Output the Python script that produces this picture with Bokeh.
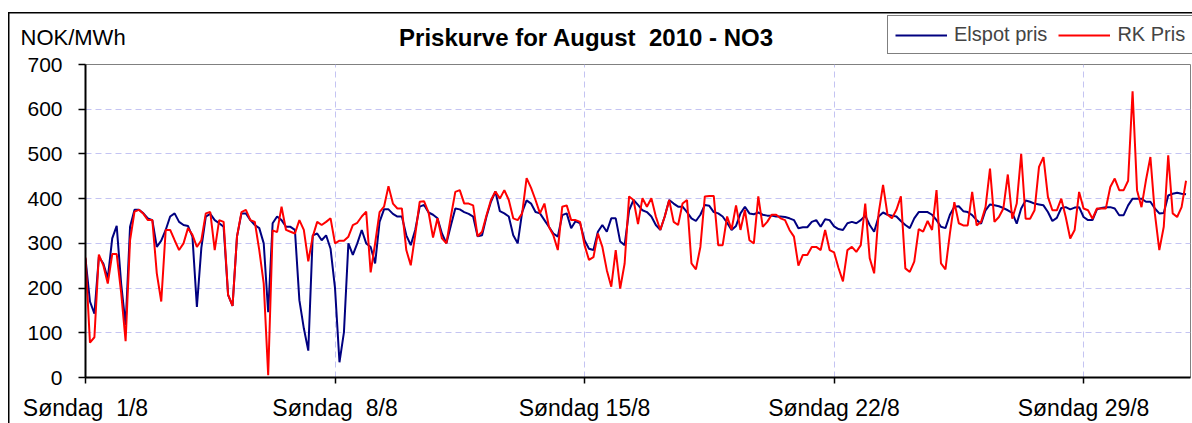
from bokeh.plotting import figure
from bokeh.layouts import column
from bokeh.models import FixedTicker, Legend, LegendItem, Range1d
from bokeh.core.properties import value
from bokeh.embed import file_html
from bokeh.resources import INLINE

# ---- data (3-hour samples, August 2010, NOK/MWh) ----
hours = list(range(0, 744, 3))

elspot = [
    266, 170, 143, 270, 255, 222, 311, 339,
    210, 117, 337, 375, 375, 367, 356, 352,
    292, 306, 330, 360, 367, 348, 341, 339,
    315, 158, 290, 360, 366, 352, 345, 337,
    185, 160, 315, 367, 367, 352, 341, 334,
    300, 146, 345, 360, 352, 337, 337, 330,
    173, 110, 60, 318, 322, 307, 318, 288,
    200, 34, 101, 300, 274, 300, 330, 300,
    292, 255, 348, 376, 376, 366, 360, 360,
    318, 296, 330, 382, 386, 369, 364, 356,
    322, 300, 340, 378, 376, 370, 366, 360,
    316, 318, 360, 393, 416, 372, 367, 360,
    318, 300, 370, 396, 389, 370, 367, 352,
    337, 322, 315, 363, 367, 334, 350, 345,
    307, 288, 285, 326, 341, 326, 356, 356,
    304, 296, 374, 397, 386, 374, 370, 360,
    341, 330, 360, 397, 389, 382, 382, 370,
    356, 350, 364, 386, 384, 370, 367, 360,
    346, 330, 339, 367, 382, 367, 365, 369,
    364, 362, 362, 360, 360, 359, 356, 352,
    334, 336, 336, 348, 352, 337, 354, 352,
    338, 332, 330, 345, 348, 345, 352, 362,
    341, 326, 360, 369, 364, 362, 360, 350,
    341, 334, 356, 370, 370, 370, 364, 352,
    337, 334, 364, 382, 383, 372, 370, 363,
    352, 344, 374, 387, 385, 383, 379, 374,
    368, 344, 378, 396, 393, 389, 387, 385,
    370, 350, 357, 379, 381, 376, 380, 381,
    359, 352, 352, 376, 379, 381, 381, 378,
    363, 363, 385, 400, 400, 400, 393, 393,
    378, 367, 368, 407, 411, 413, 411, 410,
]

rk_pris = [
    268, 78, 90, 275, 251, 210, 276, 276,
    190, 81, 307, 371, 375, 366, 352, 352,
    233, 170, 330, 330, 307, 285, 300, 334,
    319, 292, 307, 367, 370, 285, 352, 348,
    185, 160, 315, 370, 375, 352, 348, 285,
    210, 5, 329, 325, 382, 330, 326, 322,
    352, 330, 260, 315, 348, 341, 348, 356,
    300, 306, 306, 315, 341, 346, 360, 371,
    235, 300, 370, 382, 428, 389, 378, 378,
    285, 251, 319, 393, 394, 369, 313, 356,
    311, 300, 360, 415, 419, 389, 389, 385,
    316, 326, 363, 397, 416, 400, 419, 397,
    356, 352, 367, 446, 424, 397, 367, 389,
    337, 318, 285, 382, 385, 352, 352, 348,
    296, 263, 269, 322, 292, 240, 203, 285,
    199, 255, 405, 397, 343, 401, 382, 401,
    360, 330, 360, 397, 348, 341, 389, 397,
    255, 242, 292, 405, 406, 406, 296, 296,
    360, 331, 385, 330, 375, 307, 300, 405,
    337, 348, 364, 364, 356, 352, 330, 315,
    250, 274, 274, 292, 292, 285, 330, 285,
    280, 245, 215, 285, 292, 281, 296, 389,
    267, 233, 367, 431, 364, 356, 375, 405,
    244, 236, 259, 332, 326, 350, 330, 419,
    255, 242, 322, 392, 345, 340, 340, 415,
    340, 348, 381, 467, 348, 359, 378, 454,
    355, 389, 500, 355, 355, 374, 471, 493,
    404, 374, 374, 400, 359, 311, 330, 415,
    378, 374, 355, 378, 378, 378, 426, 445,
    419, 419, 440, 640, 419, 381, 441, 493,
    367, 285, 337, 497, 367, 359, 381, 440,
]

NB = "\u00a0"
week_ticks = [0, 168, 336, 504, 672]
week_labels = ["Søndag " + NB + "1/8", "Søndag " + NB + "8/8", "Søndag 15/8", "Søndag 22/8", "Søndag 29/8"]
y_ticks = [0, 100, 200, 300, 400, 500, 600, 700]

title_text = "Priskurve for August " + NB + "2010 - NO3"
unit_text = "NOK/MWh"
series_names = ["Elspot pris", "RK Pris"]
series_colors = ["#000080", "#ff0000"]

FONT = "Liberation Sans"
W = 1192
HEAD_H = 54
MAIN_H = 423 - HEAD_H

BORDER_HEAD = ("linear-gradient(#000,#000) 8px 12px / 1.5px 100% no-repeat, "
               "linear-gradient(#000,#000) 8px 12px / 100% 1.5px no-repeat, #fff")
BORDER_MAIN = "linear-gradient(#000,#000) 8px 0px / 1.5px 100% no-repeat, #fff"

# ---- header: unit label, title, legend ----
head = figure(width=W, height=HEAD_H, output_backend="svg", toolbar_location=None,
              x_range=Range1d(0, W), y_range=Range1d(HEAD_H, 0),
              x_axis_location=None, y_axis_location=None, min_border=0,
              frame_align=False, styles={"background": BORDER_HEAD})
head.title.visible = False
head.grid.visible = False
head.outline_line_color = None
head.background_fill_color = None
head.border_fill_color = None

head.text(x=[20], y=[36.5], text=[unit_text], text_font=value(FONT),
          text_font_size="22px", text_baseline="middle", text_color="black")
head.text(x=[586], y=[37], text=[title_text], text_font=value(FONT),
          text_font_size="24px", text_font_style="bold", text_align="center",
          text_baseline="middle", text_color="black")

# legend keys: renderers kept outside the header's visible range
key_renderers = [head.line(x=[-40, -20], y=[-40, -40], line_color=c, line_width=2)
                 for c in series_colors]
legend = Legend(items=[LegendItem(label=n, renderers=[r]) for n, r in zip(series_names, key_renderers)],
                location=(887, 0), orientation="horizontal",
                label_text_font=FONT, label_text_font_size="20px",
                glyph_width=52, glyph_height=20, label_standoff=7, spacing=11,
                padding=7, margin=0,
                border_line_color="black", border_line_width=1.5,
                background_fill_color="white", background_fill_alpha=1)
head.add_layout(legend)

# ---- main chart ----
p = figure(width=W, height=MAIN_H, output_backend="svg", toolbar_location=None,
           x_range=Range1d(0, 744), y_range=Range1d(0, 700),
           min_border_left=85, min_border_right=2, min_border_top=64 - HEAD_H,
           min_border_bottom=45, frame_align=False,
           styles={"background": BORDER_MAIN})
p.title.visible = False
p.background_fill_color = "white"
p.border_fill_color = None
p.outline_line_color = "#808080"
p.outline_line_width = 1

p.xaxis.ticker = FixedTicker(ticks=week_ticks)
p.xaxis.major_label_overrides = {t: l for t, l in zip(week_ticks, week_labels)}
p.xaxis.major_label_text_font = FONT
p.xaxis.major_label_text_font_size = "23px"
p.xaxis.major_label_text_color = "black"
p.xaxis.major_label_standoff = 11
p.xaxis.major_tick_out = 6
p.xaxis.major_tick_in = 0
p.xaxis.minor_tick_line_color = None
p.xaxis.axis_line_width = 2
p.xaxis.axis_line_color = "black"
p.xaxis.major_tick_line_color = "black"
p.xaxis.major_tick_line_width = 1.5

p.yaxis.ticker = FixedTicker(ticks=y_ticks)
p.yaxis.major_label_text_font = FONT
p.yaxis.major_label_text_font_size = "21px"
p.yaxis.major_label_text_color = "black"
p.yaxis.major_label_standoff = 16
p.yaxis.major_tick_out = 7
p.yaxis.major_tick_in = 0
p.yaxis.minor_tick_line_color = None
p.yaxis.axis_line_width = 2
p.yaxis.axis_line_color = "black"
p.yaxis.major_tick_line_color = "black"
p.yaxis.major_tick_line_width = 1.5

p.xgrid.ticker = FixedTicker(ticks=week_ticks[1:])
p.ygrid.ticker = FixedTicker(ticks=y_ticks[1:-1])
for g in (p.xgrid, p.ygrid):
    g.grid_line_color = "#c4c4f2"
    g.grid_line_dash = "6 4"
    g.grid_line_width = 1

p.line(hours, elspot, line_color=series_colors[0], line_width=2)
p.line(hours, rk_pris, line_color=series_colors[1], line_width=2)

layout = column(head, p, spacing=0)
open("out.html", "w").write(file_html(layout, INLINE))
